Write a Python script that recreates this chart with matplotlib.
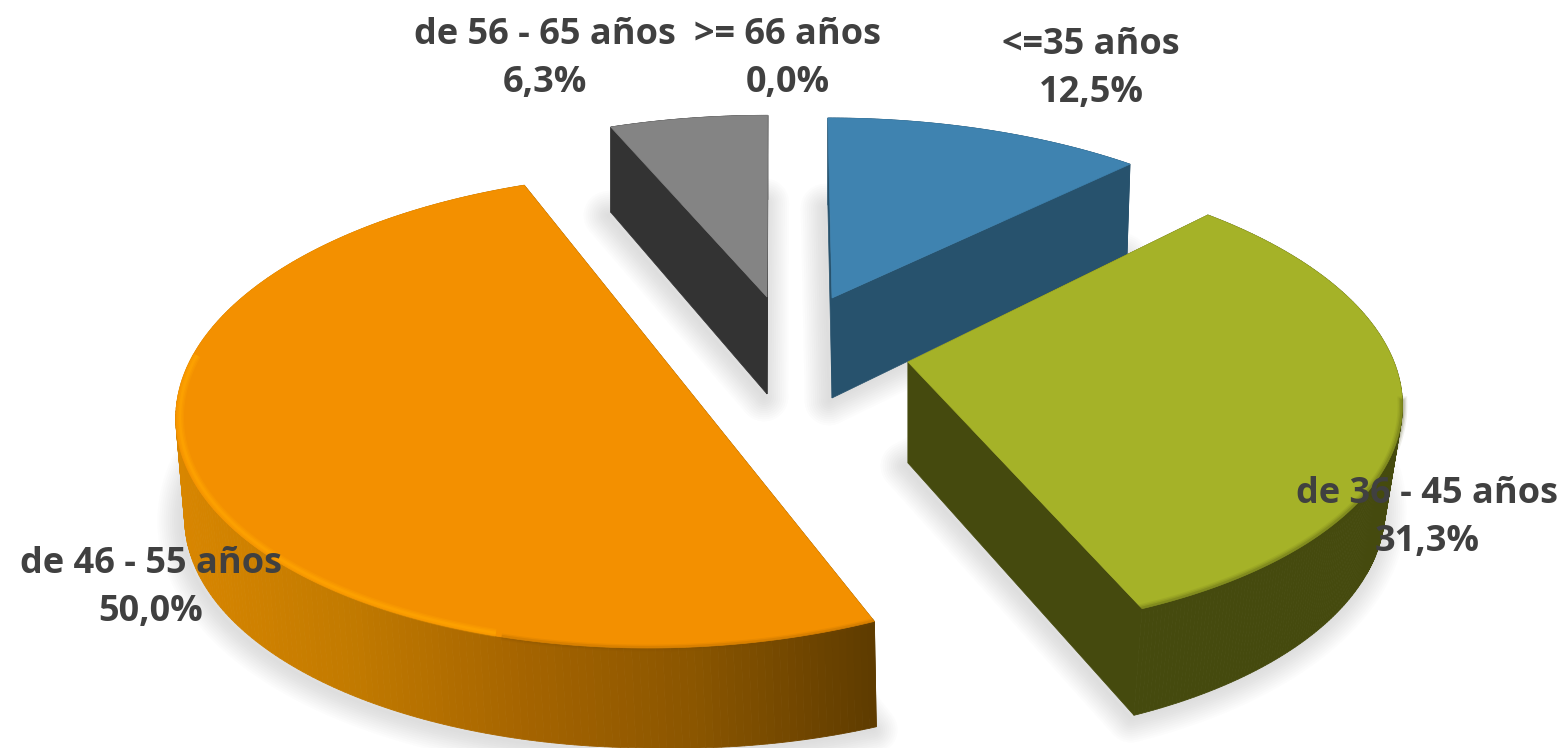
import matplotlib
matplotlib.use("Agg")
import matplotlib.pyplot as plt
from matplotlib.colors import LinearSegmentedColormap
import numpy as np

labels = ["<=35 años", "de 36 - 45 años", "de 46 - 55 años", "de 56 - 65 años", ">= 66 años"]
values = [12.5, 31.25, 50.0, 6.25, 0.0]
pct_labels = ["12,5%", "31,3%", "50,0%", "6,3%", "0,0%"]

# layout, pixels. one exploded centre + radii per slice, same order as values
centres = [(832, 298), (908, 362), (667, 363), (767, 297), (790, 300)]
radius_x = [486, 486, 478, 486, 480]
radius_y = [216, 230, 228, 218, 220]
persp = [0.2, 0.15, 0.2, 0.2, 0.2]
shear = [-5, -17, 15, 1, 0]
shrink = [0.99, 0.965, 0.99, 1.0, 1.0]
foot_shift = [0, 0, 4, 0, 0]
depths = [100, 101, 100, 97, 100]
label_pos = [(1091, 69), (1427, 518), (151, 588), (545, 59), (788, 59)]

top_cols = ["#3F83B0", "#A5B228", "#F39000", "#848484", "#848484"]
side_cols = ["#27526D", "#454A0E", "#5F3C00", "#333333", "#333333"]

orange_wall = LinearSegmentedColormap.from_list("wall", ["#D88600", "#C27A00", "#A56400", "#8A5500", "#5F3C00"])


def project(i, theta, r=1.0, down=False):
    cx, cy = centres[i]
    px = r * np.sin(theta)
    py = r * np.cos(theta)
    k = 1 + persp[i] * py
    x = cx + (radius_x[i] * px + shear[i] * py) / k
    y = cy - radius_y[i] * py / k
    if down:
        x = cx + (x - cx) * shrink[i] + foot_shift[i]
        if i == 2:
            # orange wall is a bit taller only towards its right corner
            y = y + depths[i] * (1 + 0.14 * np.clip(px, 0, None))
        else:
            y = y + depths[i] * (1 - np.where(py > 0, 0.13, 0.06) * py)
    return x, y


fig, ax = plt.subplots(figsize=(15.66, 7.48), dpi=100)
fig.subplots_adjust(0, 0, 1, 1)
ax.set_xlim(0, 1566)
ax.set_ylim(748, 0)
ax.set_axis_off()

edges = np.cumsum([0] + values) / sum(values) * 2 * np.pi
zorders = [10, 11, 14, 9, 9]

for i in [3, 0, 1, 2]:
    t = np.linspace(edges[i], edges[i + 1], 240)
    x0, y0 = project(i, t)
    x1, y1 = project(i, t, down=True)
    cx, cy = centres[i]
    z = zorders[i]

    # soft shadow under the slice
    bx = np.r_[cx, x1, cx]
    by = np.r_[cy + depths[i], y1, cy + depths[i]]
    for lw in range(2, 38, 3):
        ax.plot(bx - 3, by + 3, color="#666666", alpha=0.014, lw=lw, zorder=1,
                solid_joinstyle="round", solid_capstyle="round")

    # cut faces
    for end in [t[0], t[-1]]:
        xa, ya = project(i, end)
        xb, yb = project(i, end, down=True)
        ax.fill([cx, xa, xb, cx], [cy, ya, yb, cy + depths[i]], color=side_cols[i], lw=0.5, zorder=z)

    # outer wall, strip by strip
    for j in range(len(t) - 1):
        if i == 2:
            frac = np.clip((x0[j] - 175) / (875 - 175), 0, 1)
            col = orange_wall(frac)
        else:
            col = side_cols[i]
        ax.fill([x0[j], x0[j + 1], x1[j + 1], x1[j]], [y0[j], y0[j + 1], y1[j + 1], y1[j]],
                color=col, lw=0.6, zorder=z)

    # top face
    ax.fill(np.r_[cx, x0], np.r_[cy, y0], color=top_cols[i], lw=0.5, zorder=z + 0.1)

    # bevel along the rim
    if i == 1:
        for w, a in [(7, 0.08), (5, 0.12), (3, 0.2)]:
            ax.plot(x0[y0 > 400], y0[y0 > 400], color="#454A0E", lw=w, alpha=a, zorder=z + 0.2)
    if i == 2:
        front = t[(t > np.radians(195)) & (t < np.radians(272))]
        xr, yr = project(i, front, r=0.992)
        for w, a in [(6, 0.25), (4, 0.35), (2, 0.5)]:
            ax.plot(xr, yr, color="#FFA600", lw=w, alpha=a, zorder=z + 0.2, solid_capstyle="butt")
        # darker soft edge where the top meets the wall on the right
        right = t[t < np.radians(195)]
        xr, yr = project(i, right)
        for w, a in [(5, 0.08), (3, 0.14)]:
            ax.plot(xr, yr, color="#7A4A00", lw=w, alpha=a, zorder=z + 0.2, solid_capstyle="butt")

for i in range(len(values)):
    ax.text(label_pos[i][0], label_pos[i][1], labels[i] + "\n" + pct_labels[i], ha="center", va="center",
            family="Open Sans", weight="bold", fontsize=26, color="#404040", linespacing=1.42, zorder=30)

fig.savefig("out.png", dpi=100)
